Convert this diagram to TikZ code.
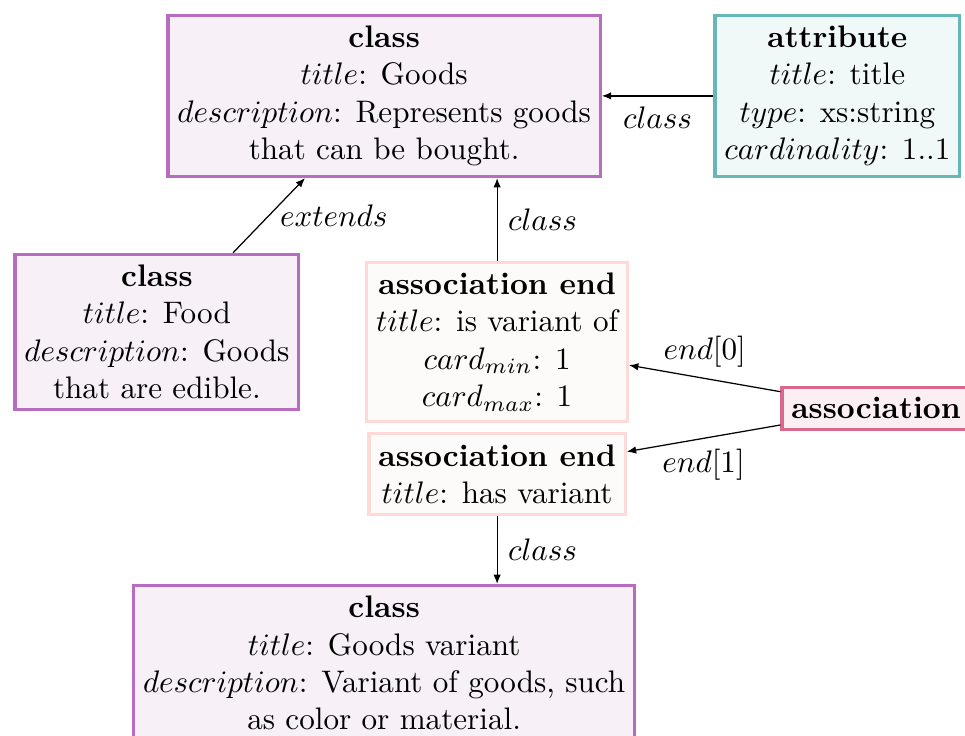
\documentclass[tikz,border=0pt]{standalone}
\usetikzlibrary{arrows.meta}
\definecolor{classdraw}{RGB}{184,108,192}
\definecolor{classfill}{RGB}{247,240,247}
\definecolor{attrdraw}{RGB}{102,184,184}
\definecolor{attrfill}{RGB}{240,248,248}
\definecolor{aedraw}{RGB}{255,216,216}
\definecolor{aefill}{RGB}{253,251,250}
\definecolor{assocdraw}{RGB}{216,104,144}
\definecolor{assocfill}{RGB}{252,239,243}
\begin{document}
\begin{tikzpicture}[x=1pt,y=1pt,
  box/.style={rectangle, line width=1pt, inner xsep=3pt, inner ysep=3.4pt, align=center},
  classbox/.style={box, draw=classdraw, fill=classfill},
  attrbox/.style={box, draw=attrdraw, fill=attrfill},
  endbox/.style={box, draw=aedraw, fill=aefill},
  assocbox/.style={box, draw=assocdraw, fill=assocfill},
  rel/.style={-{Latex[length=3pt,width=2.4pt]}, line width=0.4pt}]
\useasboundingbox (0,0) rectangle (310,-236.4);

% entities
\node[classbox] (goods) at (123.4,-30.8)
  {\textbf{class}\\ $title$: Goods\\ $description$: Represents goods\\ that can be bought.};
\node[attrbox] (attr) at (269.0,-30.8)
  {\textbf{attribute}\\ $title$: title\\ $type$: xs:string\\ $cardinality$: 1..1};
\node[classbox] (food) at (50.4,-106.6)
  {\textbf{class}\\ $title$: Food\\ $description$: Goods\\ that are edible.};
\node[endbox] (endA) at (159.7,-109.9)
  {\textbf{association end}\\ $title$: is variant of\\ $card_{min}$: 1\\ $card_{max}$: 1};
\node[endbox] (endB) at (159.7,-152.3)
  {\textbf{association end}\\ $title$: has variant};
\node[assocbox, anchor=west] (assoc) at (250.7,-131.2) {\textbf{association}};
\node[classbox, anchor=north] (variant) at (123.4,-187.6)
  {\textbf{class}\\ $title$: Goods variant\\ $description$: Variant of goods, such\\ as color or material.};

% relations
\draw[rel] (attr) -- node[below] {$class$} (goods);
\draw[rel] (food) -- node[right] {$extends$} (goods);
\draw[rel] (endA.north) -- node[right] {$class$} (endA.north |- goods.south);
\draw[rel] (assoc) -- node[above] {$end[0]$} (endA);
\draw[rel] (assoc) -- node[below] {$end[1]$} (endB);
\draw[rel] (endB.south) -- node[right] {$class$} (endB.south |- variant.north);
\end{tikzpicture}
\end{document}
